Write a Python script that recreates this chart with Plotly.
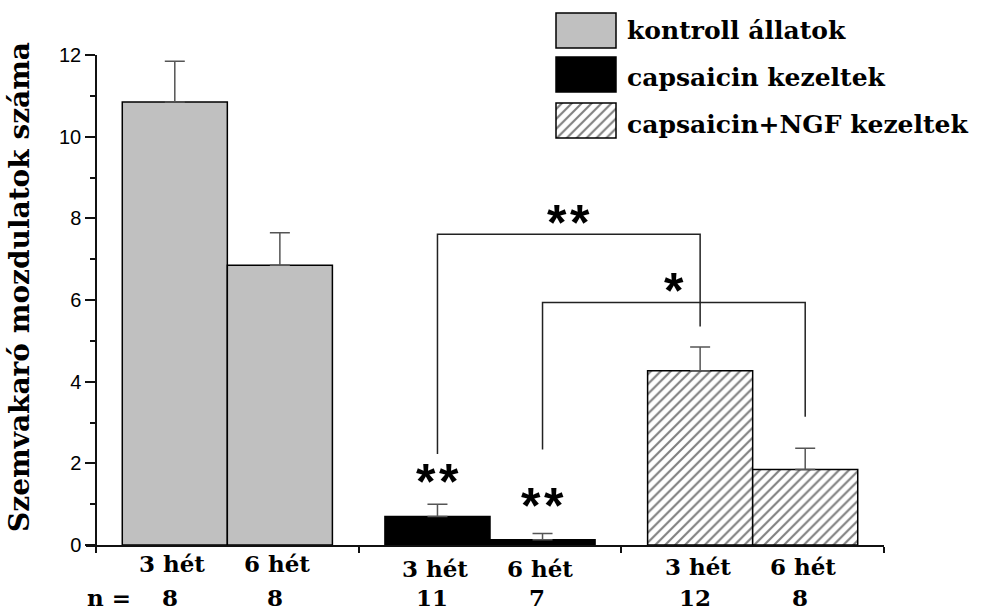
import plotly.graph_objects as go

# ---------------- data ----------------
groups = ["kontroll állatok", "capsaicin kezeltek", "capsaicin+NGF kezeltek"]
weeks = ["3 hét", "6 hét"]
kontroll_mean = [10.85, 6.85]
kontroll_sem = [1.00, 0.80]
capsaicin_mean = [0.70, 0.13]
capsaicin_sem = [0.30, 0.15]
ngf_mean = [4.27, 1.85]
ngf_sem = [0.58, 0.52]
n_kontroll = [8, 8]
n_capsaicin = [11, 7]
n_ngf = [12, 8]

# significance brackets
sig_from = [(1, 0), (1, 1)]
sig_to = [(2, 0), (2, 1)]
sig_top = [7.61, 5.94]
sig_left_end = [2.23, 2.34]
sig_right_end = [5.35, 3.14]
sig_label = ["**", "*"]
# asterisks above capsaicin bars vs. control
bar_sig_label = ["**", "**"]
bar_sig_y = [1.71, 1.13]

y_ticks = [0, 2, 4, 6, 8, 10, 12]

# ---------------- layout constants ----------------
W, H = 981, 612
ML, MR, MT, MB = 86, 97, 5, 67
PX0, PX1 = ML, W - MR
PY_TOP, PY_BOT = MT, H - MB
Y12_PIX = 55
ydom_top = (PY_BOT - Y12_PIX) / (PY_BOT - PY_TOP)

def paper_y(py):
    return (PY_BOT - py) / (PY_BOT - PY_TOP)

BAR_W = 0.4
def bar_x(g, w):
    return g + 0.1 + BAR_W / 2 + w * BAR_W

SERIF = "DejaVu Serif"
SANS = "Liberation Sans, Arial"

means = [kontroll_mean, capsaicin_mean, ngf_mean]
sems = [kontroll_sem, capsaicin_sem, ngf_sem]
ns = [n_kontroll, n_capsaicin, n_ngf]

styles = [
    dict(color="#c0c0c0", line=dict(color="black", width=1.5)),
    dict(color="black", line=dict(color="black", width=1.5)),
    dict(color="white", line=dict(color="black", width=1.5),
         pattern=dict(shape="/", fgcolor="black", bgcolor="white", size=7, solidity=0.3)),
]

fig = go.Figure()
for g in range(3):
    fig.add_trace(go.Bar(
        x=[bar_x(g, w) for w in range(2)], y=means[g], width=BAR_W,
        marker=styles[g], name=groups[g], showlegend=False,
        error_y=dict(type="data", symmetric=False, array=sems[g], arrayminus=[0, 0],
                     color="#555555", thickness=1.5, width=10),
        xaxis="x", yaxis="y",
    ))

# custom legend on a pixel overlay axis
leg_top = [13, 57, 103]
leg_text_y = [30.5, 77.5, 124.5]
leg_h = 35
for g in range(3):
    fig.add_trace(go.Bar(
        x=[586], y=[leg_h], base=[leg_top[g]], width=60,
        marker=styles[g], showlegend=False, hoverinfo="skip",
        xaxis="x2", yaxis="y2",
    ))

annotations = []
for g in range(3):
    annotations.append(dict(
        x=625, y=leg_text_y[g], xref="x2", yref="y2",
        text="<b>%s</b>" % groups[g], showarrow=False, xanchor="left", yanchor="middle",
        font=dict(family=SERIF, size=25, color="black")))

# week labels and n values
week_label_py = [563, 568, 566]
for g in range(3):
    for w in range(2):
        annotations.append(dict(
            x=bar_x(g, w) - 0.01, y=paper_y(week_label_py[g]), xref="x", yref="paper",
            text="<b>%s</b>" % weeks[w], showarrow=False, yanchor="middle",
            font=dict(family=SERIF, size=23, color="black")))
        annotations.append(dict(
            x=bar_x(g, w) - 0.02, y=paper_y(H), xref="x", yref="paper",
            text="<b>%d</b>" % ns[g][w], showarrow=False, yanchor="bottom", borderpad=0,
            font=dict(family=SERIF, size=23, color="black")))
annotations.append(dict(
    x=0.05, y=paper_y(H), xref="x", yref="paper", xanchor="center", yanchor="bottom",
    text="<b>n =</b>", showarrow=False, borderpad=0,
    font=dict(family=SERIF, size=23, color="black")))

STAR_GAP = 23  # px between asterisk centres

def add_stars(x, y, label):
    k = len(label)
    for j in range(k):
        annotations.append(dict(
            x=x, y=y, xref="x", yref="y", text="<b>*</b>", showarrow=False,
            yanchor="middle", yshift=-7, xshift=(j - (k - 1) / 2) * STAR_GAP,
            font=dict(family=SANS, size=50, color="black")))

shapes = []
for i in range(len(sig_from)):
    xa = bar_x(*sig_from[i])
    xb = bar_x(*sig_to[i])
    shapes.append(dict(
        type="path", xref="x", yref="y",
        path="M %f %f L %f %f L %f %f L %f %f" % (xa, sig_left_end[i], xa, sig_top[i],
                                                  xb, sig_top[i], xb, sig_right_end[i]),
        line=dict(color="#222222", width=1.5)))
    add_stars((xa + xb) / 2, sig_top[i] + 0.45, sig_label[i])
for w in range(2):
    add_stars(bar_x(1, w), bar_sig_y[w], bar_sig_label[w])

# y axis title
annotations.append(dict(
    x=(20 - PX0) / (PX1 - PX0), y=6.32, xref="paper", yref="y", textangle=-90,
    text="<b>Szemvakaró mozdulatok száma</b>", showarrow=False,
    xanchor="center", yanchor="middle",
    font=dict(family=SERIF, size=28, color="black")))

xr0 = -(10 * 3) / (PX1 - PX0 - 10)
fig.update_layout(
    width=W, height=H,
    margin=dict(l=ML, r=MR, t=MT, b=MB, pad=0, autoexpand=False),
    paper_bgcolor="white", plot_bgcolor="rgba(0,0,0,0)",
    barmode="overlay",
    showlegend=False,
    xaxis=dict(range=[xr0, 3], domain=[0, 1], anchor="y", automargin=False,
               showgrid=False, zeroline=False, showline=True, linecolor="#111", linewidth=1.5,
               tickvals=[0, 1, 2, 3], ticks="outside", ticklen=6, tickwidth=1.5, tickcolor="#111",
               showticklabels=False),
    yaxis=dict(range=[0, 12], domain=[0, ydom_top], anchor="free", automargin=False,
               position=(0 - xr0) / (3 - xr0),
               showgrid=False, zeroline=False, showline=True, linecolor="#111", linewidth=1.5,
               tickvals=y_ticks, ticks="outside", ticklen=10, tickwidth=1.5, tickcolor="#111",
               minor=dict(dtick=1, tick0=0, ticks="outside", ticklen=5, tickwidth=1.5, tickcolor="#111"),
               tickfont=dict(family=SANS, size=20, color="black")),
    xaxis2=dict(range=[PX0, PX1], domain=[0, 1], anchor="y2", visible=False, fixedrange=True,
                automargin=False),
    yaxis2=dict(range=[PY_BOT, PY_TOP], domain=[0, 1], anchor="x2", visible=False, fixedrange=True,
                automargin=False),
    shapes=shapes,
    annotations=annotations,
)

fig.write_html("out.html")
